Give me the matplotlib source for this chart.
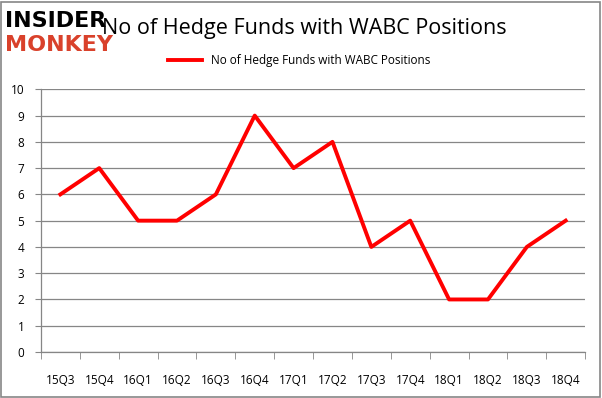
import matplotlib
matplotlib.use("Agg")
import matplotlib.pyplot as plt
from matplotlib.patches import Rectangle

quarters = ["15Q3", "15Q4", "16Q1", "16Q2", "16Q3", "16Q4", "17Q1",
            "17Q2", "17Q3", "17Q4", "18Q1", "18Q2", "18Q3", "18Q4"]
funds = [6, 7, 5, 5, 6, 9, 7, 8, 4, 5, 2, 2, 4, 5]
yticks = list(range(0, 11))

plt.rcParams["font.family"] = ["Open Sans", "DejaVu Sans"]

fig = plt.figure(figsize=(6.02, 3.98), dpi=100)
ax = fig.add_axes([0.068, 0.1156, 0.904, 0.66])

x = list(range(len(quarters)))
ax.plot(x, funds, color="#ff0000", linewidth=2.8,
        label="No of Hedge Funds with WABC Positions")

ax.set_xlim(-0.5, len(quarters) - 0.5)
ax.set_ylim(0, 10)
ax.set_yticks(yticks)
ax.set_yticklabels([str(v) for v in yticks], fontsize=8.5)
ax.set_xticks(x)
ax.set_xticklabels(quarters, fontsize=8.5)
ax.set_xticks([i - 0.5 for i in range(len(quarters) + 1)], minor=True)
ax.tick_params(axis="x", which="major", length=0, pad=16)
ax.tick_params(axis="x", which="minor", length=5, color="#868686", direction="out")
ax.tick_params(axis="y", length=4, color="#868686", pad=8)

ax.grid(axis="y", color="#868686", linewidth=0.9)
ax.set_axisbelow(True)
for side in ["top", "right"]:
    ax.spines[side].set_visible(False)
for side in ["left", "bottom"]:
    ax.spines[side].set_color("#868686")
    ax.spines[side].set_linewidth(0.9)

fig.text(0.505, 0.928, "No of Hedge Funds with WABC Positions",
         ha="center", va="center", fontsize=15.5)
ax.legend(loc="center", bbox_to_anchor=(0.475, 1.11), frameon=False,
          fontsize=8.5, handlelength=2.8)

# logo
fig.text(0.008, 0.948, "INSIDER", fontsize=16, fontweight="heavy",
         color="black", ha="left", va="center", family=["DejaVu Sans"])
fig.text(0.008, 0.888, "MONKEY", fontsize=16, fontweight="heavy",
         color="#d9412b", ha="left", va="center", family=["DejaVu Sans"])

fig.patches.append(Rectangle((0.002, 0.003), 0.994, 0.992, transform=fig.transFigure,
                             fill=False, edgecolor="#868686", linewidth=1.2))

fig.savefig("out.png", dpi=100)
